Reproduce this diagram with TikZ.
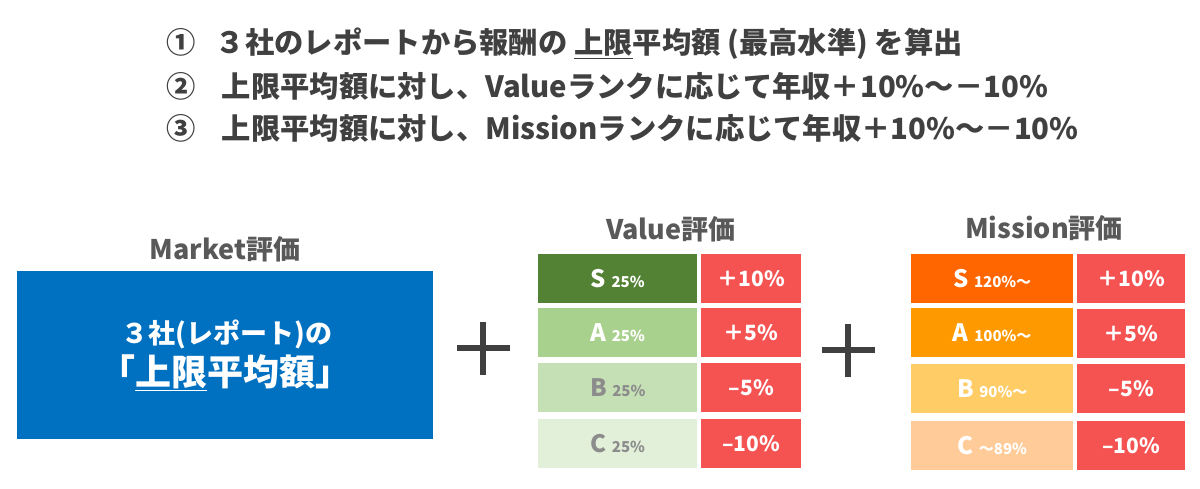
\documentclass[tikz,border=0pt]{standalone}
\usepackage{fontspec}
\newfontfamily\jp{Noto Sans CJK JP}
\definecolor{txtgray}{RGB}{64,64,64}
\definecolor{ttlgray}{RGB}{89,89,89}
\definecolor{mktblue}{RGB}{0,112,192}
\definecolor{cellred}{RGB}{245,82,82}
\definecolor{vS}{RGB}{84,130,53}
\definecolor{vA}{RGB}{169,209,142}
\definecolor{vB}{RGB}{197,224,180}
\definecolor{vC}{RGB}{226,240,217}
\definecolor{mS}{RGB}{255,102,0}
\definecolor{mA}{RGB}{255,153,0}
\definecolor{mB}{RGB}{255,204,102}
\definecolor{mC}{RGB}{255,204,153}
\definecolor{lblgray}{RGB}{140,140,140}
\tikzset{
  headline/.style={anchor=west,inner sep=0,text=txtgray,font=\jp\bfseries\fontsize{29.3}{33}\selectfont},
  coltitle/.style={inner sep=0,text=ttlgray,font=\jp\bfseries\fontsize{27}{30}\selectfont},
  rankcell/.style={anchor=north west,inner sep=0,minimum width=159pt,minimum height=49pt,text=white,font=\jp\bfseries\fontsize{24}{26}\selectfont},
  pctcell/.style={anchor=north west,inner sep=0,minimum width=100pt,minimum height=49pt,fill=cellred,text=white,font=\jp\bfseries\fontsize{21}{24}\selectfont},
  mcell/.style={rankcell,minimum width=162pt},
  mpct/.style={pctcell,minimum width=108pt},
  plussign/.style={line width=6.5pt,draw=txtgray}
}
\newcommand{\sm}[1]{{\fontsize{15}{17}\selectfont #1}}
\begin{document}
\begin{tikzpicture}[x=1pt,y=-1pt]
\useasboundingbox (0,0) rectangle (1200,488);
\fill[white] (0,0) rectangle (1200,488);
% headlines
\node[headline] (l1) at (166,44) {①\hspace{0.7em}３社のレポートから報酬の \underline{上限}平均額 (最高水準) を算出};
\node[headline] (l2) at (166,86) {②\hspace{0.9em}上限平均額に対し、Valueランクに応じて年収＋10\%～－10\%};
\node[headline] (l3) at (166,128) {③\hspace{0.9em}上限平均額に対し、Missionランクに応じて年収＋10\%～－10\%};
% market
\node[coltitle] (mt) at (225,249) {Market評価};
\node[fill=mktblue,anchor=north west,minimum width=416pt,minimum height=168pt,inner sep=0] (mbox) at (17,271) {};
\node[inner sep=0,text=white,font=\jp\bfseries\fontsize{27}{30}\selectfont] (mb1) at (227,334) {３社(レポート)の};
\node[inner sep=0,text=white,font=\jp\bfseries\fontsize{36}{40}\selectfont] (mb2) at (225,373) {「\underline{上限}平均額」};
% plus signs
\draw[plussign] (483,322) -- (483,375);
\draw[plussign] (457,348) -- (510,348);
\draw[plussign] (848,324) -- (848,377);
\draw[plussign] (822,350) -- (875,350);
% value table
\node[coltitle] (vt) at (671,229) {Value評価};
\node[rankcell,fill=vS] (vs) at (538,254) {S \sm{25\%}};
\node[rankcell,fill=vA] (va) at (538,308) {A \sm{25\%}};
\node[rankcell,fill=vB,text=lblgray] (vb) at (538,363) {B \sm{25\%}};
\node[rankcell,fill=vC,text=lblgray] (vc) at (538,419) {C \sm{25\%}};
\node[pctcell] (vps) at (701,254) {＋10\%};
\node[pctcell] (vpa) at (701,308) {＋5\%};
\node[pctcell] (vpb) at (701,363) {–5\%};
\node[pctcell] (vpc) at (701,419) {–10\%};
% mission table
\node[coltitle] (mst) at (1044,228) {Mission評価};
\node[mcell,fill=mS] (ms) at (911,254) {S \sm{120\%～}};
\node[mcell,fill=mA] (ma) at (911,308) {A \sm{100\%～}};
\node[mcell,fill=mB] (mb) at (911,364) {B \sm{90\%～}};
\node[mcell,fill=mC] (mc) at (911,421) {C \sm{～89\%}};
\node[mpct] (mps) at (1077,254) {＋10\%};
\node[mpct] (mpa) at (1077,309) {＋5\%};
\node[mpct] (mpb) at (1077,364) {–5\%};
\node[mpct] (mpc) at (1077,421) {–10\%};
\end{tikzpicture}
\end{document}
